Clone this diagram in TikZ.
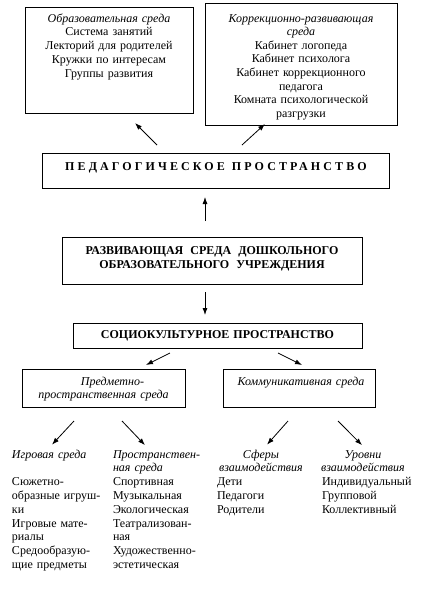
\documentclass[tikz,border=0pt]{standalone}
\usepackage{fontspec}
\setmainfont{Liberation Serif}
\usetikzlibrary{arrows.meta}
\begin{document}
\begin{tikzpicture}[x=1pt,y=-1pt,inner sep=0pt,outer sep=0pt,
  font=\fontsize{12}{13.8}\selectfont,
  panel/.style={draw,line width=0.8pt,anchor=north west},
  txt/.style={anchor=base,align=center},
  col/.style={anchor=base west,align=left},
  head/.style={font=\fontsize{12}{14}\selectfont\bfseries},
  arr/.style={-{Latex[length=7pt,width=5pt]},line width=0.8pt}]
\useasboundingbox (0,0) rectangle (421,592);
% boxes
\node[panel,minimum width=168,minimum height=106] (obraz) at (25,7) {};
\node[panel,minimum width=192,minimum height=122] (korr) at (205,3) {};
\node[panel,minimum width=347,minimum height=35] (ped) at (42,153) {};
\node[panel,minimum width=300,minimum height=47] (razv) at (62,237) {};
\node[panel,minimum width=289,minimum height=25] (soc) at (73,323) {};
\node[panel,minimum width=163,minimum height=38] (predm) at (22,369) {};
\node[panel,minimum width=152,minimum height=38] (komm) at (223,369) {};
% texts in boxes
\node[txt,text width=160] (obrazt) at (109,22) {\textit{Образовательная среда}\\Система занятий\\
  Лекторий для родителей\\Кружки по интересам\\Группы развития};
\node[txt,text width=185,font=\fontsize{12}{13.6}\selectfont] (korrt) at (301,22)
  {\textit{Коррекционно-развивающая}\\\textit{среда}\\Кабинет логопеда\\Кабинет психолога\\
  Кабинет коррекционного\\педагога\\Комната психологической\\разгрузки};
\node[txt,head,text width=340] (pedt) at (216,170)
  {\addfontfeature{LetterSpace=26}ПЕДАГОГИЧЕСКОЕ\hspace{7pt}ПРОСТРАНСТВО};
\node[txt,head,text width=290] (razvt) at (212,254)
  {РАЗВИВАЮЩАЯ\hspace{7pt}СРЕДА\hspace{7pt}ДОШКОЛЬНОГО\\ОБРАЗОВАТЕЛЬНОГО\hspace{7pt}УЧРЕЖДЕНИЯ};
\node[txt,head,text width=280] (soct) at (217.5,338) {СОЦИОКУЛЬТУРНОЕ ПРОСТРАНСТВО};
\node[txt,text width=160] (predmt) at (103.5,385)
  {\hspace*{18pt}\textit{Предметно-}\\\textit{пространственная среда}};
\node[txt,text width=145] (kommt) at (301,385) {\textit{Коммуникативная среда}};
% lower columns
\node[col,text width=95] (igr) at (12,458) {\textit{Игровая среда}\\[13.8pt]
  Сюжетно-\\\makebox[89pt][s]{образные игруш-}\\ки\\\makebox[89pt][s]{Игровые мате-}\\риалы\\
  Средообразую-\\щие предметы};
\node[col,text width=95] (prostr) at (113,458) {\textit{Пространствен-}\\\textit{ная среда}\\
  Спортивная\\Музыкальная\\Экологическая\\Театрализован-\\ная\\Художественно-\\эстетическая};
\node[col,text width=88] (sfery) at (217,458) {\makebox[\linewidth]{\textit{Сферы}}\\
  \makebox[\linewidth]{\textit{взаимодействия}}\\Дети\\Педагоги\\Родители};
\node[col,text width=82] (urovni) at (322,458) {\makebox[\linewidth]{\textit{Уровни}}\\
  \makebox[\linewidth]{\textit{взаимодействия}}\\Индивидуальный\\Групповой\\Коллективный};
% arrows
\draw[arr] ([shift={(-58.5,-8)}]ped.north) -- ([shift={(26,10)}]obraz.south);
\draw[arr] ([shift={(26.5,-8)}]ped.north) -- ([shift={(-36,-1)}]korr.south);
\draw[arr] ([shift={(-7,-16)}]razv.north) -- ([shift={(-10.5,9)}]ped.south);
\draw[arr] ([shift={(-7,8)}]razv.south) -- ([shift={(-12.5,-8)}]soc.north);
\draw[arr] ([shift={(-47.5,5)}]soc.south) -- ([shift={(42.5,-4)}]predm.north);
\draw[arr] ([shift={(60.5,5)}]soc.south) -- ([shift={(3,-4)}]komm.north);
\draw[arr] ([shift={(-29.5,14)}]predm.south) -- ([shift={(40,-5)}]igr.north west);
\draw[arr] ([shift={(18.5,14)}]predm.south) -- ([shift={(32,-5)}]prostr.north west);
\draw[arr] ([shift={(-11,14)}]komm.south) -- ([shift={(50,-5)}]sfery.north west);
\draw[arr] ([shift={(39,14)}]komm.south) -- ([shift={(40,-5)}]urovni.north west);
\end{tikzpicture}
\end{document}
